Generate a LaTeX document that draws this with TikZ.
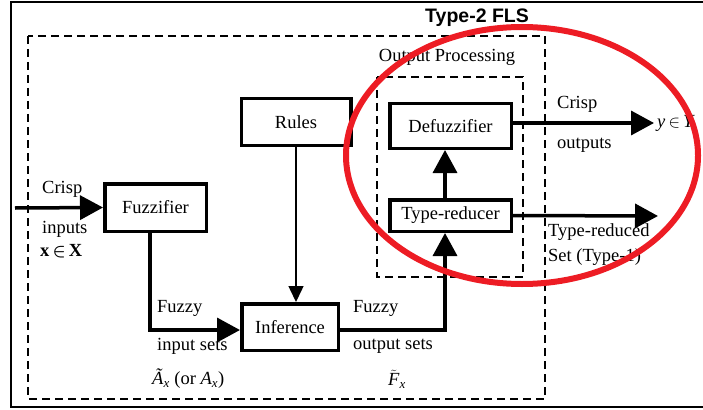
\documentclass[tikz,border=0pt]{standalone}
\usepackage{fontspec}
\setmainfont{Liberation Serif}
\newfontfamily\bodyfont{Liberation Serif}
\newfontfamily\headfont{Liberation Sans}
\usetikzlibrary{arrows.meta, positioning}
\definecolor{markred}{HTML}{ED1C24}

\tikzset{
  block/.style={draw, line width=3.5pt, inner sep=0pt, font=\bodyfont\fontsize{18.5}{20}\selectfont},
  flow/.style={line width=3.5pt, -{Triangle[length=23pt,width=24pt]}},
  thinflow/.style={line width=1.5pt, -{Triangle[length=16pt,width=15pt]}},
  dashbox/.style={line width=1.8pt, dash pattern=on 8pt off 5pt},
  lbl/.style={anchor=west, inner sep=0pt, font=\bodyfont\fontsize{18.5}{20}\selectfont}
}

\begin{document}
\begin{tikzpicture}[x=1pt, y=-1pt]
    \useasboundingbox (0,0) rectangle (703,409);
    % frame and groups
    \draw[line width=2.5pt] (720,2) -- (11,2) -- (11,407) -- (720,407);
    \draw[dashbox] (28,36) rectangle (545,399);
    \draw[dashbox] (377,77) rectangle (523,277);
    \node[anchor=west, inner sep=0pt, font=\headfont\bfseries\fontsize{19.5}{21}\selectfont] (title) at (425,18) {Type-2 FLS};
    \node[inner sep=0pt, font=\bodyfont\fontsize{18.5}{20}\selectfont] (optitle) at (447,57) {Output Processing};

    % blocks
    \node[block, minimum width=109.5pt, minimum height=46.5pt] (rules) at (296,122) {Rules};
    \node[block, minimum width=101.5pt, minimum height=47.5pt] (fuzz) at (155.5,207.5) {Fuzzifier};
    \node[block, minimum width=96.5pt, minimum height=46.5pt] (inf) at (290,327) {Inference};
    \node[block, minimum width=121.5pt, minimum height=44.5pt] (defuzz) at (450.5,126) {Defuzzifier};
    \node[block, minimum width=121.5pt, minimum height=31.5pt] (tr) at (450.5,215.5) {Type-reducer};

    % connectors
    \coordinate (xin) at (15,208);
    \coordinate (yout) at (654,123);
    \coordinate (trout) at (658,216);
    \draw[flow] (xin) -- (fuzz.west);
    \draw[flow] ([xshift=-5.5pt]fuzz.south) |- ([yshift=-3pt]inf.west);
    \draw[thinflow] (rules.south) -- (rules.south |- inf.north);
    \draw[flow] ([yshift=-3pt]inf.east) -| ([xshift=-5.5pt]tr.south);
    \draw[flow] ([xshift=-5.5pt]tr.north) -- ([xshift=-5.5pt]defuzz.south);
    \draw[flow] ([yshift=3pt]defuzz.east) -- (yout);
    \draw[flow] (tr.east) -- (trout);

    % labels
    \node[lbl] (crispin) at (42,189) {Crisp};
    \node[lbl] (inputs) at (42,229) {inputs};
    \node[lbl] (xinX) at (40,251) {\textbf{x}\,{\boldmath$\in$}\,\textbf{X}};
    \node[lbl] (fuzzyin) at (157,308) {Fuzzy};
    \node[lbl] (insets) at (157,346) {input sets};
    \node[lbl] (insym) at (152,379) {\textit{Ã}\textsubscript{\itshape x} (or \textit{A}\textsubscript{\itshape x})};
    \node[lbl] (fuzzyout) at (353,308) {Fuzzy};
    \node[lbl] (outsets) at (353,346) {output sets};
    \node[lbl] (outsym) at (388,379) {$\tilde{\mbox{\bodyfont\itshape F}}$\textsubscript{\itshape x}};
    \node[lbl] (crispout) at (557,104) {Crisp};
    \node[lbl] (outputs) at (557,145) {outputs};
    \node[lbl] (ysym) at (657,123) {\textit{y}\,$\in$\,\textit{Y}};
    \node[lbl] (trset) at (548,232) {Type-reduced};
    \node[lbl] (trtype) at (548,257) {Set (Type-1)};

    % highlight
    \draw[markred, line width=6pt] (522,155.5) ellipse [x radius=176, y radius=128.5];
\end{tikzpicture}
\end{document}
